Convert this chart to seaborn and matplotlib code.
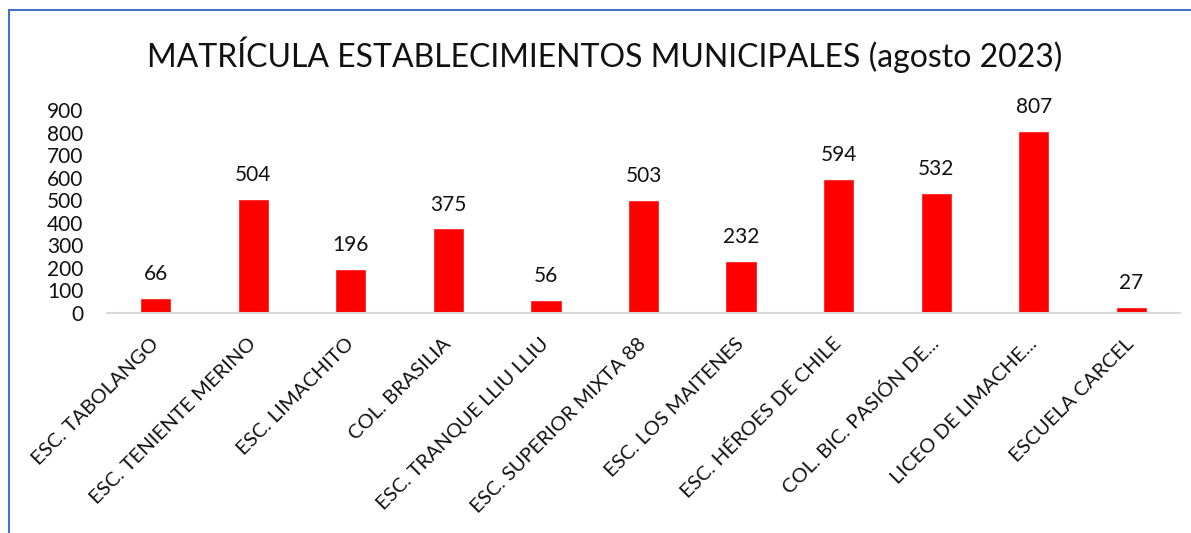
import matplotlib
matplotlib.use("Agg")
import matplotlib.pyplot as plt
import seaborn as sns
import pandas as pd
from matplotlib.patches import Rectangle

escuelas = ["ESC. TABOLANGO", "ESC. TENIENTE MERINO", "ESC. LIMACHITO", "COL. BRASILIA",
            "ESC. TRANQUE LLIU LLIU", "ESC. SUPERIOR MIXTA 88", "ESC. LOS MAITENES",
            "ESC. HÉROES DE CHILE", "COL. BIC. PASIÓN DE...", "LICEO DE LIMACHE...",
            "ESCUELA CARCEL"]
matricula = [66, 504, 196, 375, 56, 503, 232, 594, 532, 807, 27]
y_ticks = [0, 100, 200, 300, 400, 500, 600, 700, 800, 900]

df = pd.DataFrame({"escuela": escuelas, "matricula": matricula})

sns.set_theme(style="white")
plt.rcParams["font.family"] = ["Lato", "DejaVu Sans"]

fig = plt.figure(figsize=(11.91, 5.33), dpi=100)
ax = fig.add_axes([0.0898, 0.4128, 0.901, 0.3808])

sns.barplot(data=df, x="escuela", y="matricula", color="#ff0000", width=0.32,
            saturation=1, ax=ax)
ax.bar_label(ax.containers[0], padding=10, fontsize=15, color="#111111", clip_on=False)

ax.set_ylim(0, 900)
ax.set_yticks(y_ticks)
ax.set_xlim(-0.5, len(escuelas) - 0.5)
ax.set_xlabel("")
ax.set_ylabel("")
for s in ["top", "right", "left"]:
    ax.spines[s].set_visible(False)
ax.spines["bottom"].set_color("#d9d9d9")
ax.spines["bottom"].set_linewidth(1.5)
ax.tick_params(axis="y", length=0, pad=17, labelsize=15, labelcolor="#111111")
ax.tick_params(axis="x", length=0, pad=20, labelsize=14.5, labelcolor="#111111")
plt.setp(ax.get_xticklabels(), rotation=45, ha="right", va="center",
         rotation_mode="anchor")

fig.text(0.508, 0.897, "MATRÍCULA ESTABLECIMIENTOS MUNICIPALES (agosto 2023)",
         ha="center", va="center", fontsize=23, color="#111111")

# marco azul del gráfico
fig.patches.append(Rectangle((9 / 1191, -0.1), 1.2, 1.1 - 11 / 533 + 0.001,
                             transform=fig.transFigure, fill=False,
                             edgecolor="#4472c4", linewidth=1.5))

fig.savefig("out.png", dpi=100)
